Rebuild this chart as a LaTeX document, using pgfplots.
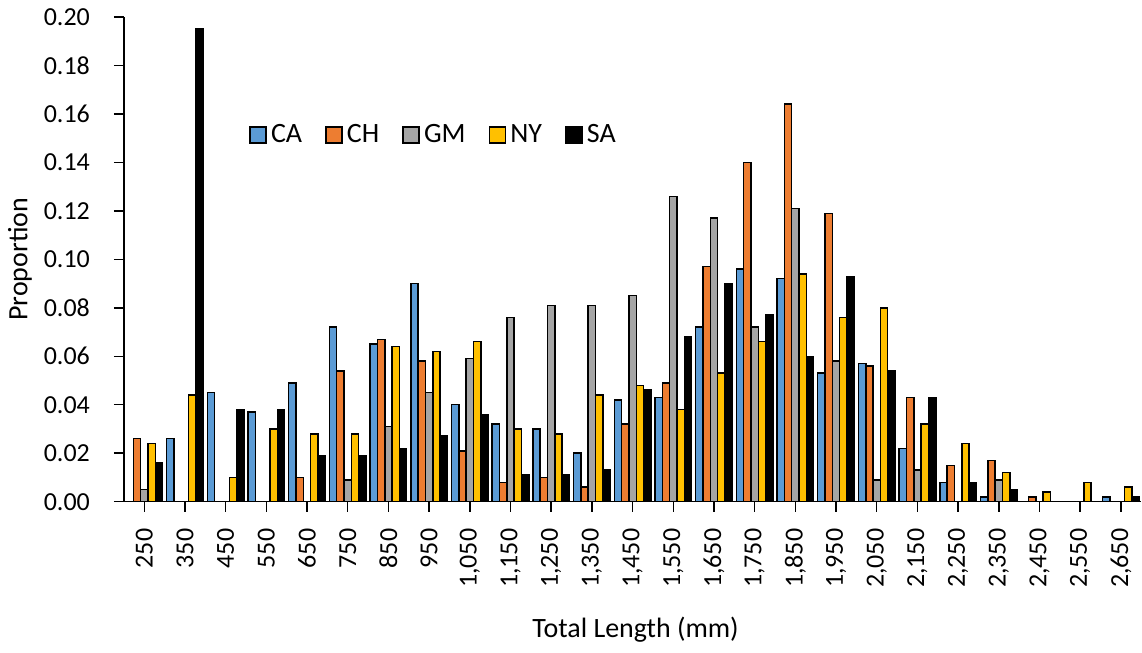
\documentclass[border=0pt]{standalone}
\usepackage{pgfplots}
\pgfplotsset{compat=1.18}
\usepackage{pgfplotstable}
\usepackage{fontspec}
\setmainfont{Carlito}
\definecolor{cCA}{HTML}{5B9BD5}
\definecolor{cCH}{HTML}{ED7D31}
\definecolor{cGM}{HTML}{A5A5A5}
\definecolor{cNY}{HTML}{FFC000}
\definecolor{cSA}{HTML}{000000}

\pgfplotstableread{
i  CA     CH     GM     NY     SA
0  0      0.026  0.005  0.024  0.016
1  0.026  0      0      0.044  0.195
2  0.045  0      0      0.010  0.038
3  0.037  0      0      0.030  0.038
4  0.049  0.010  0      0.028  0.019
5  0.072  0.054  0.009  0.028  0.019
6  0.065  0.067  0.031  0.064  0.022
7  0.090  0.058  0.045  0.062  0.027
8  0.040  0.021  0.059  0.066  0.036
9  0.032  0.008  0.076  0.030  0.011
10 0.030  0.010  0.081  0.028  0.011
11 0.020  0.006  0.081  0.044  0.013
12 0.042  0.032  0.085  0.048  0.046
13 0.043  0.049  0.126  0.038  0.068
14 0.072  0.097  0.117  0.053  0.090
15 0.096  0.140  0.072  0.066  0.077
16 0.092  0.164  0.121  0.094  0.060
17 0.053  0.119  0.058  0.076  0.093
18 0.057  0.056  0.009  0.080  0.054
19 0.022  0.043  0.013  0.032  0.043
20 0.008  0.015  0      0.024  0.008
21 0.002  0.017  0.009  0.012  0.005
22 0      0.002  0      0.004  0
23 0      0      0      0.008  0
24 0.002  0      0      0.006  0.002
}\data

\begin{document}
\begin{tikzpicture}
\begin{axis}[
  scale only axis, width=509pt, height=242.5pt,
  xmin=-0.5, xmax=24.5, ymin=0, ymax=0.2,
  ybar=0pt, bar width=0.18,
  axis x line*=bottom, axis y line*=left,
  axis line style={line width=0.75pt, black, -},
  ytick={0,0.02,...,0.201},
  xtick={0,...,24},
  xticklabels={250,350,450,550,650,750,850,950,{1,050},{1,150},{1,250},{1,350},{1,450},{1,550},{1,650},{1,750},{1,850},{1,950},{2,050},{2,150},{2,250},{2,350},{2,450},{2,550},{2,650}},
  tick align=outside, major tick length=5pt,
  tick style={line width=0.75pt, black},
  ticklabel style={font=\fontsize{13}{15}\selectfont},
  yticklabel style={xshift=-8.5pt, /pgf/number format/.cd, fixed, fixed zerofill, precision=2, assume math mode=true},
  xticklabel style={rotate=90, anchor=east, xshift=-5pt},
  every axis y label/.style={at={(axis description cs:-0.1022,0.5)}, rotate=90, anchor=center, font=\fontsize{14}{16}\selectfont},
  every axis x label/.style={at={(axis description cs:0.503,-0.264)}, anchor=center, font=\fontsize{14}{16}\selectfont},
  ylabel={Proportion},
  xlabel={Total Length (mm)},
  legend columns=5,
  legend style={at={(rel axis cs:0.1228,0.7567)}, anchor=west, draw=none, fill=none, inner sep=0pt,
    font=\fontsize{14}{16}\selectfont,
    /tikz/every even column/.append style={column sep=9.5pt}},
  legend image code/.code={\draw[#1, draw=black, line width=0.9pt] (0pt,-4pt) rectangle (8pt,4pt);},
  every axis plot/.append style={draw=black, line width=0.75pt},
]
\addplot[fill=cCA] table[x=i, y=CA] {\data};
\addplot[fill=cCH] table[x=i, y=CH] {\data};
\addplot[fill=cGM] table[x=i, y=GM] {\data};
\addplot[fill=cNY] table[x=i, y=NY] {\data};
\addplot[fill=cSA] table[x=i, y=SA] {\data};
\legend{CA,CH,GM,NY,SA}
\coordinate (sw) at (rel axis cs:0,0);
\end{axis}
\path (sw) ++(-62pt,-75.5pt) rectangle ++(571pt,326.5pt);
\end{tikzpicture}
\end{document}
